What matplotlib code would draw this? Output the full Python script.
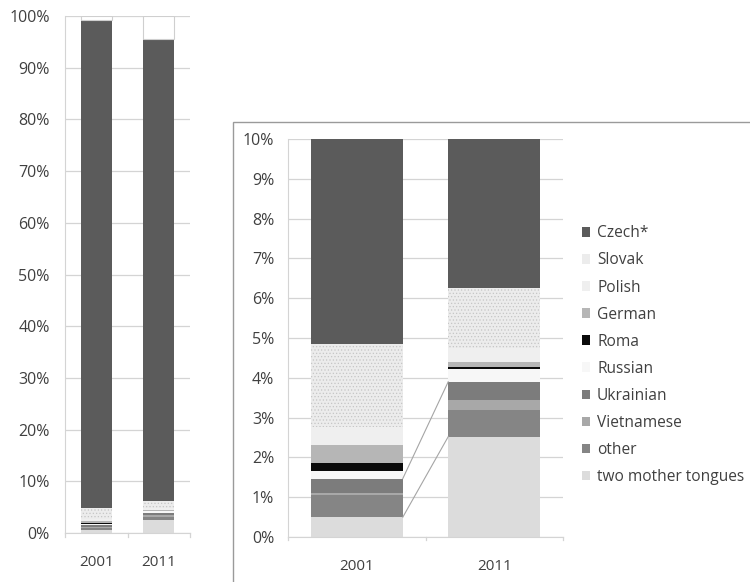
import matplotlib.pyplot as plt
from matplotlib.patches import Patch, Rectangle

plt.rcParams['font.family'] = ['Open Sans', 'DejaVu Sans']
plt.rcParams['hatch.linewidth'] = 0.5

# Mother tongue of the population, share in %, census 2001 and 2011
years = ['2001', '2011']
two_tongues = [0.50, 2.52]
other = [0.55, 0.67]
vietnamese = [0.06, 0.25]
ukrainian = [0.36, 0.46]
russian = [0.20, 0.31]
roma = [0.20, 0.06]
german = [0.44, 0.13]
polish = [0.46, 0.35]
slovak = [2.08, 1.50]
czech = [94.35, 89.25]
unstated = [0.80, 4.50]

# stacking order, bottom to top: (label, values, colour, hatch)
series = [
    ('two mother tongues', two_tongues, '#dcdcdc', None),
    ('other', other, '#858585', None),
    ('Vietnamese', vietnamese, '#a8a8a8', None),
    ('Ukrainian', ukrainian, '#7c7c7c', None),
    ('Russian', russian, '#f7f7f7', None),
    ('Roma', roma, '#0a0a0a', None),
    ('German', german, '#b6b6b6', None),
    ('Polish', polish, '#efefef', None),
    ('Slovak', slovak, '#ececec', '.....'),
    ('Czech*', czech, '#5b5b5b', None),
    ('_unstated', unstated, '#ffffff', None),
]

text_col = '#404040'
grid_col = '#d4d4d4'

fig = plt.figure(figsize=(7.5, 5.82), dpi=100)


def stacked(ax, width):
    x = range(len(years))
    bottom = [0.0] * len(years)
    tops = {}
    for name, vals, col, hatch in series:
        if name == '_unstated':
            ax.bar(x, vals, width, bottom=bottom, color=col,
                   edgecolor='#cfcfcf', linewidth=0.8, zorder=2)
        elif hatch:
            ax.bar(x, vals, width, bottom=bottom, color=col, hatch=hatch,
                   edgecolor='#c6c6c6', linewidth=0, zorder=2)
        else:
            ax.bar(x, vals, width, bottom=bottom, color=col,
                   linewidth=0, zorder=2)
        bottom = [b + v for b, v in zip(bottom, vals)]
        tops[name] = list(bottom)
    return tops


def style(ax, step, ymax, pad_y):
    n = int(round(ymax / step))
    ax.set_xlim(-0.5, 1.5)
    ax.set_ylim(0, ymax)
    ax.set_yticks([i * step for i in range(n + 1)])
    ax.set_yticklabels(['%d%%' % round(i * step) for i in range(n + 1)])
    ax.set_xticks([0, 1])
    ax.set_xticklabels(years)
    ax.yaxis.grid(True, color=grid_col, linewidth=0.9, zorder=0)
    ax.set_axisbelow(True)
    for s in ['top', 'right']:
        ax.spines[s].set_visible(False)
    for s in ['left', 'bottom']:
        ax.spines[s].set_color(grid_col)
    ax.tick_params(axis='y', length=0, pad=pad_y, labelsize=11.5,
                   labelcolor=text_col)
    ax.tick_params(axis='x', length=0, pad=16, labelsize=11,
                   labelcolor=text_col)
    # category separators on the x axis
    for xt in [-0.5, 0.5, 1.5]:
        ax.plot([xt, xt], [0, -ymax * 0.008], color=grid_col, lw=0.9,
                clip_on=False)


# full range chart
ax1 = fig.add_axes([0.0867, 0.0842, 0.1667, 0.8883])
stacked(ax1, 0.5)
style(ax1, 10, 100, 11)

# framed inset with the lower 10 %
fig.patches.append(Rectangle((0.3107, -0.01), 0.75, 0.8004,
                             transform=fig.transFigure, facecolor='white',
                             edgecolor='#9a9a9a', linewidth=1.0, zorder=-1))

ax2 = fig.add_axes([0.384, 0.0773, 0.3667, 0.6838])
width2 = 0.67
tops = stacked(ax2, width2)
style(ax2, 1, 10, 10)

# series lines between the two columns
for name in ['two mother tongues', 'Ukrainian']:
    ax2.plot([width2 / 2, 1 - width2 / 2], tops[name], color='#a5a5a5',
             lw=0.8, zorder=3)

handles = [Patch(facecolor=col, edgecolor='none', label=name)
           for name, vals, col, hatch in reversed(series)
           if not name.startswith('_')]
fig.legend(handles=handles, loc='upper left', bbox_to_anchor=(0.765, 0.626),
           frameon=False, fontsize=11.2, labelcolor=text_col,
           handlelength=0.55, handleheight=0.55, handletextpad=0.45,
           labelspacing=0.71, borderpad=0)

fig.savefig('out.png', dpi=100)
